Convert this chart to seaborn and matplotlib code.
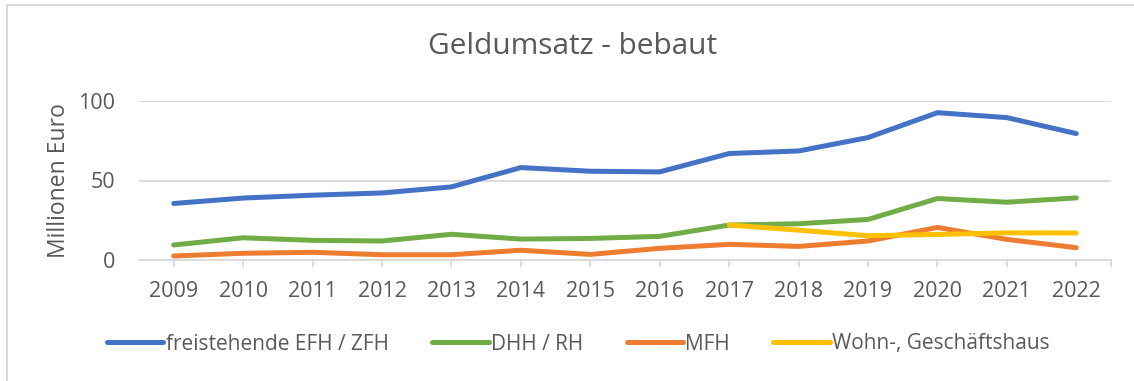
import matplotlib
matplotlib.use("Agg")
import matplotlib.pyplot as plt
from matplotlib.lines import Line2D
import numpy as np
import pandas as pd
import seaborn as sns

# Money turnover for built-up properties, in million euros
years = [2009, 2010, 2011, 2012, 2013, 2014, 2015, 2016, 2017, 2018, 2019, 2020, 2021, 2022]
efh_zfh = [35.6, 39.0, 40.8, 42.2, 46.0, 58.1, 55.8, 55.4, 66.9, 68.5, 76.9, 92.5, 89.4, 79.4]
dhh_rh = [9.6, 14.1, 12.5, 12.1, 16.3, 13.3, 13.7, 15.0, 22.1, 22.9, 25.6, 38.7, 36.4, 39.1]
mfh = [2.7, 4.4, 5.0, 3.5, 3.5, 6.3, 3.7, 7.5, 10.0, 8.7, 12.1, 20.6, 13.1, 7.9]
wohn_geschaeft = [np.nan] * 8 + [22.1, 18.9, 15.4, 16.2, 17.2, 17.1]

series_names = ["freistehende EFH / ZFH", "DHH / RH", "MFH", "Wohn-, Geschäftshaus"]
series_values = [efh_zfh, dhh_rh, mfh, wohn_geschaeft]
colors = ["#4472C4", "#70AD47", "#ED7D31", "#FFC000"]
y_ticks = [0, 50, 100]

frames = [pd.DataFrame({"Jahr": years, "Wert": vals, "Kategorie": name})
          for name, vals in zip(series_names, series_values)]
df = pd.concat(frames, ignore_index=True).dropna()

sns.set_theme(style="white")
plt.rcParams["font.family"] = ["Open Sans", "DejaVu Sans"]
text_color = "#595959"
grid_color = "#D9D9D9"

fig = plt.figure(figsize=(11.34, 3.81), dpi=100)
ax = fig.add_axes([139 / 1134, 1 - 260.3 / 381, (1111 - 139) / 1134, (260.3 - 100.7) / 381])

sns.lineplot(data=df, x="Jahr", y="Wert", hue="Kategorie", hue_order=series_names,
             palette=colors, linewidth=3.6, ax=ax, legend=False,
             solid_capstyle="round", solid_joinstyle="round")

ax.set_xlim(years[0] - 0.5, years[-1] + 0.5)
ax.set_ylim(0, 100)
ax.set_yticks(y_ticks)
ax.set_xticks(years)
ax.set_xticks([years[-1] + 0.5], minor=True)
ax.set_xticklabels([str(y) for y in years])

ax.yaxis.grid(True, color=grid_color, linewidth=1.3)
ax.set_axisbelow(True)
for side in ["top", "right", "left"]:
    ax.spines[side].set_visible(False)
ax.spines["bottom"].set_color(grid_color)
ax.spines["bottom"].set_linewidth(1.3)

ax.tick_params(axis="x", which="both", direction="out", length=5, width=1.3,
               color=grid_color, bottom=True, labelsize=15.5, labelcolor=text_color, pad=10)
ax.tick_params(axis="y", length=0, labelsize=15.5, labelcolor=text_color, pad=17)

ax.set_xlabel("")
ax.set_ylabel("Millionen Euro", fontsize=16.5, color=text_color, labelpad=5)

fig.text(0.505, 1 - 46 / 381, "Geldumsatz - bebaut", ha="center", va="center",
         fontsize=21.5, color=text_color)

handles = [Line2D([0], [0], color=c, linewidth=3.6, solid_capstyle="round") for c in colors]
fig.legend(handles, series_names, loc="center", bbox_to_anchor=(0.51, 1 - 344 / 381),
           ncol=4, frameon=False, fontsize=15, labelcolor=text_color,
           handlelength=2.7, handletextpad=0.1, columnspacing=2.1)

# chart area border (left and top edges)
fig.add_artist(Line2D([7 / 1134, 7 / 1134], [0, 1 - 5 / 381], color=grid_color,
                      linewidth=1.5, transform=fig.transFigure))
fig.add_artist(Line2D([7 / 1134, 1], [1 - 5 / 381, 1 - 5 / 381], color=grid_color,
                      linewidth=1.5, transform=fig.transFigure))

fig.savefig("out.png", dpi=100, facecolor="white")
